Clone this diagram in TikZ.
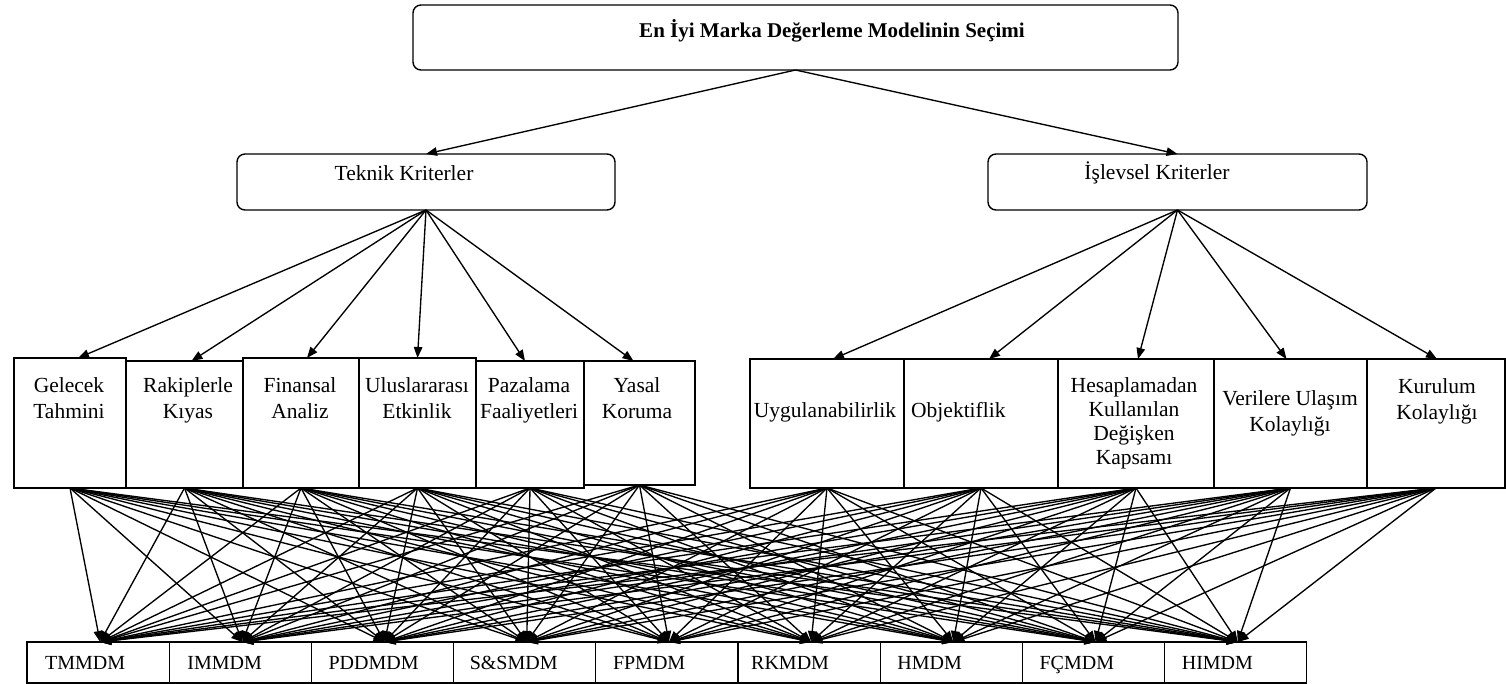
\documentclass[tikz,border=0pt]{standalone}
\usepackage{fontspec}
\setmainfont{Liberation Serif}
\usetikzlibrary{arrows.meta,calc}
\newcommand\mkbox[6]{%
  \pgfmathsetmacro\mkBW{#5-#3}\pgfmathsetmacro\mkBH{#6-#4}%
  \pgfmathsetmacro\mkBX{(#3+#5)/2}\pgfmathsetmacro\mkBY{(#4+#6)/2}%
  \node[#2, minimum width=\mkBW pt, minimum height=\mkBH pt] (#1) at (\mkBX,\mkBY) {};}
\begin{document}
\begin{tikzpicture}[x=1pt,y=-1pt,
  rbox/.style={draw, rounded corners=8pt, line width=1.4pt, inner sep=0pt, outer sep=0pt},
  cbox/.style={draw, line width=1.3pt, inner sep=0pt, outer sep=0pt},
  txt/.style={font=\fontsize{21.5}{26}\selectfont, align=center, inner sep=0pt},
  ctxt/.style={txt, anchor=north},
  lbl/.style={font=\fontsize{20}{22}\selectfont, inner sep=0pt, anchor=base west},
  arr/.style={-{Triangle[length=11pt,width=8.5pt]}, line width=1.35pt},
]
\useasboundingbox (0,0) rectangle (1506,684);

% top level
\mkbox{top}{rbox}{413}{5}{1178}{70}
\node[txt, font=\fontsize{21}{24}\selectfont\bfseries] (toptxt) at (832,31) {En İyi Marka Değerleme Modelinin Seçimi};

\mkbox{tek}{rbox}{237}{154}{615}{210}
\node[txt] (tektxt) at (404,173) {Teknik Kriterler};
\mkbox{isl}{rbox}{988}{154}{1367}{210}
\node[txt] (isltxt) at (1157,173) {İşlevsel Kriterler};

% criteria boxes
\mkbox{g1}{cbox}{14}{358}{126}{488}
\mkbox{g2}{cbox}{126}{361}{243}{488}
\mkbox{g3}{cbox}{243}{358}{359}{488}
\mkbox{g4}{cbox}{359}{358}{476}{488}
\mkbox{g5}{cbox}{476}{361}{584}{488}
\mkbox{g6}{cbox}{584}{361}{695}{485}
\mkbox{r1}{cbox}{750}{359}{904}{488}
\mkbox{r2}{cbox}{904}{359}{1058}{488}
\mkbox{r3}{cbox}{1058}{359}{1214}{488}
\mkbox{r4}{cbox}{1214}{359}{1367}{488}
\mkbox{r5}{cbox}{1367}{359}{1505}{488}

\node[ctxt] (g1t) at (69,377) {Gelecek\\Tahmini};
\node[ctxt] (g2t) at (188,377) {Rakiplerle\\Kıyas};
\node[ctxt] (g3t) at (300,377) {Finansal\\Analiz};
\node[ctxt] (g4t) at (417,377) {Uluslararası\\Etkinlik};
\node[ctxt] (g5t) at (529,377) {Pazalama\\Faaliyetleri};
\node[ctxt] (g6t) at (637,377) {Yasal\\Koruma};
\node[ctxt] (r1t) at (825,402) {Uygulanabilirlik};
\node[txt, anchor=north west] (r2t) at (911,402) {Objektiflik};
\node[ctxt, font=\fontsize{21.5}{24}\selectfont] (r3t) at (1134,377) {Hesaplamadan\\Kullanılan\\Değişken\\Kapsamı};
\node[ctxt] (r4t) at (1290,390) {Verilere Ulaşım\\Kolaylığı};
\node[ctxt] (r5t) at (1437,378) {Kurulum\\Kolaylığı};

% alternatives
\mkbox{a1}{cbox}{27}{642}{169.2}{683}
\mkbox{a2}{cbox}{169.2}{642}{311.4}{683}
\mkbox{a3}{cbox}{311.4}{642}{453.6}{683}
\mkbox{a4}{cbox}{453.6}{642}{595.8}{683}
\mkbox{a5}{cbox}{595.8}{642}{738}{683}
\mkbox{a6}{cbox}{738}{642}{880.2}{683}
\mkbox{a7}{cbox}{880.2}{642}{1022.4}{683}
\mkbox{a8}{cbox}{1022.4}{642}{1164.6}{683}
\mkbox{a9}{cbox}{1164.6}{642}{1306.8}{683}

\node[lbl] (a1t) at ($(a1.west)+(18,7)$) {TMMDM};
\node[lbl] (a2t) at ($(a2.west)+(18,7)$) {IMMDM};
\node[lbl] (a3t) at ($(a3.west)+(17,7)$) {PDDMDM};
\node[lbl] (a4t) at ($(a4.west)+(16,7)$) {S\&SMDM};
\node[lbl] (a5t) at ($(a5.west)+(17,7)$) {FPMDM};
\node[lbl] (a6t) at ($(a6.west)+(13,7)$) {RKMDM};
\node[lbl] (a7t) at ($(a7.west)+(17,7)$) {HMDM};
\node[lbl] (a8t) at ($(a8.west)+(17,7)$) {FÇMDM};
\node[lbl] (a9t) at ($(a9.west)+(17,7)$) {HIMDM};

% top arrows
\draw[arr] (top.south) -- (tek.north);
\draw[arr] (top.south) -- (isl.north);

\foreach \n/\d in {g1/8,g2/7,g3/6,g4/0,g5/-5,g6/-6}
  \draw[arr] (tek.south) -- ($(\n.north)+(\d,0)$);
\foreach \n/\d in {r1/6,r2/8,r3/2,r4/-4,r5/1}
  \draw[arr] (isl.south) -- ($(\n.north)+(\d,0)$);

% criteria to alternatives
\foreach \c in {g1,g2,g3,g4,g5,g6,r1,r2,r3,r4,r5}
  \foreach \a in {a1,a2,a3,a4,a5,a6,a7,a8,a9}
    \draw[arr] (\c.south) -- ($(\a.north)+(2,0)$);
\end{tikzpicture}
\end{document}
